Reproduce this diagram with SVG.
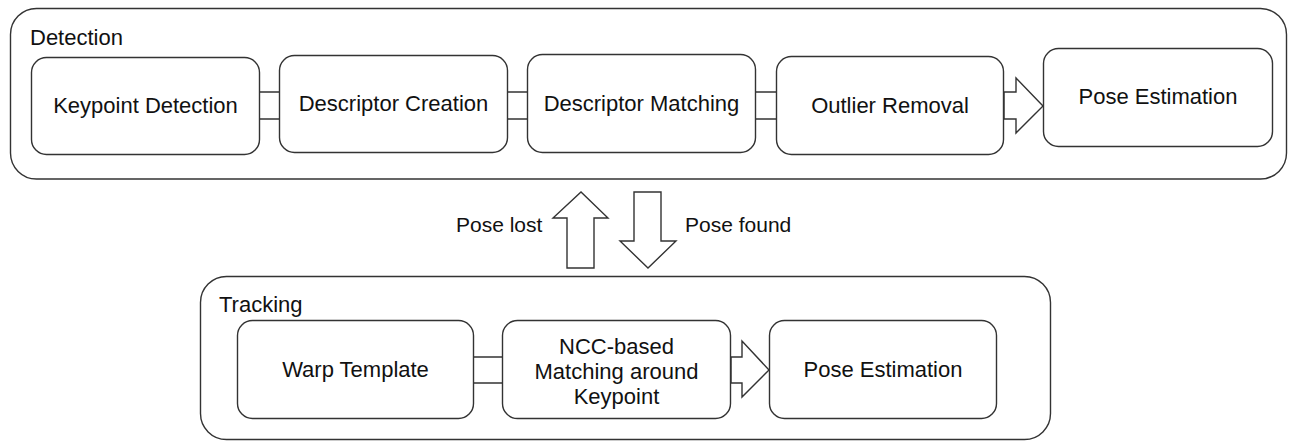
<svg xmlns="http://www.w3.org/2000/svg" width="1289" height="442" viewBox="0 0 1289 442">
<style>
.box{fill:#fff;stroke:#333;stroke-width:1.4}
.ln{fill:none;stroke:#333;stroke-width:1.4}
.ar{fill:#fff;stroke:#333;stroke-width:1.4;stroke-linejoin:miter}
text{font-family:"Liberation Sans",Arial,sans-serif;font-size:22px;fill:#111}
.s{font-size:21px}
.c{text-anchor:middle}
</style>
<rect width="1289" height="442" fill="#fff"/>
<g id="detection">
<rect class="box" x="10.5" y="8.5" width="1276" height="170.5" rx="26"/>
<text x="30" y="45">Detection</text>
</g>
<g id="tracking">
<rect class="box" x="200.5" y="276.5" width="850" height="163" rx="26"/>
<text x="219" y="312">Tracking</text>
</g>
<g id="connectors">
<path class="ln" d="M260 92H279M260 119H279M508 92H527M508 119H527M756 92H776M756 119H776M474 357H502M474 383H502"/>
<polygon class="ar" points="1004,92 1016,92 1016,78 1043,106 1016,133 1016,119 1004,119"/>
<polygon class="ar" points="731,357 742,357 742,341 769,370 742,397 742,383 731,383"/>
<polygon class="ar" points="567,268 567,218 553,218 581,192 608,218 594,218 594,268"/>
<polygon class="ar" points="634,192 661,192 661,241 676,241 648,268 620,241 634,241"/>
<text class="s" x="456" y="232">Pose lost</text>
<text class="s" x="685" y="232">Pose found</text>
</g>
<g id="keypoint-detection">
<rect class="box" x="31.5" y="57.5" width="228" height="97" rx="15"/>
<text class="c" x="145.5" y="113">Keypoint Detection</text>
</g>
<g id="descriptor-creation">
<rect class="box" x="279.5" y="55.5" width="228" height="97" rx="15"/>
<text class="c" x="393.5" y="111">Descriptor Creation</text>
</g>
<g id="descriptor-matching">
<rect class="box" x="527.5" y="54.5" width="228" height="98" rx="15"/>
<text class="c" x="641.5" y="111">Descriptor Matching</text>
</g>
<g id="outlier-removal">
<rect class="box" x="776.5" y="56.5" width="227" height="98" rx="15"/>
<text class="c" x="890" y="113">Outlier Removal</text>
</g>
<g id="pose-estimation-detection">
<rect class="box" x="1043.5" y="48.5" width="229" height="98" rx="15"/>
<text class="c" x="1158" y="104">Pose Estimation</text>
</g>
<g id="warp-template">
<rect class="box" x="237.5" y="320.5" width="236" height="98" rx="15"/>
<text class="c" x="355.5" y="377">Warp Template</text>
</g>
<g id="ncc-matching">
<rect class="box" x="502.5" y="320.5" width="228" height="98" rx="15"/>
<text class="c" x="616.5" y="354">NCC-based</text>
<text class="c" x="616.5" y="379">Matching around</text>
<text class="c" x="616.5" y="404">Keypoint</text>
</g>
<g id="pose-estimation-tracking">
<rect class="box" x="769.5" y="320.5" width="227" height="98" rx="15"/>
<text class="c" x="883" y="377">Pose Estimation</text>
</g>
</svg>
